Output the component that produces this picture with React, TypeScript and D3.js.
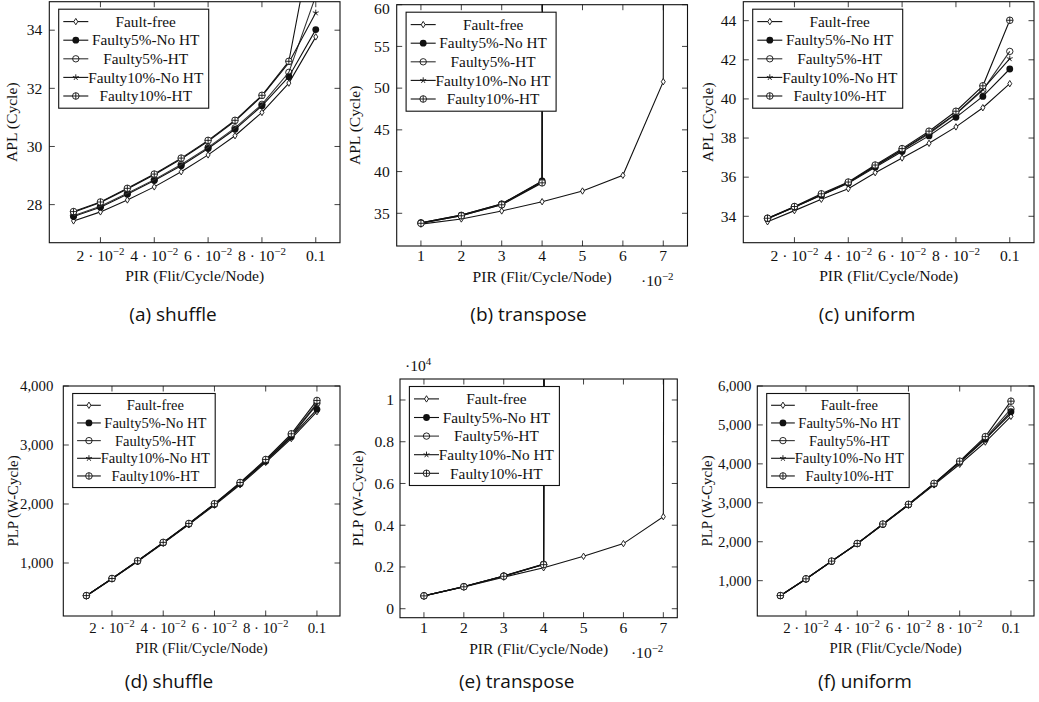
import React from 'react';
import * as d3 from 'd3';

// ---------- data ----------
const PIR = [0.01, 0.02, 0.03, 0.04, 0.05, 0.06, 0.07, 0.08, 0.09, 0.1];
// transpose: the network saturates, last value of each series lies far above the chart
const PIR_T_FF = [0.01, 0.02, 0.03, 0.04, 0.05, 0.06, 0.07, 0.08];
const PIR_T_FAULTY = [0.01, 0.02, 0.03, 0.04, 0.05];

const SERIES = ['Fault-free', 'Faulty5%-No HT', 'Faulty5%-HT', 'Faulty10%-No HT', 'Faulty10%-HT'];
const MARKS = ['diamond', 'filled', 'open', 'star', 'oplus'];

// (a) shuffle APL
const shuffleAPL_FF = [27.44, 27.75, 28.16, 28.61, 29.13, 29.71, 30.37, 31.17, 32.18, 33.77];
const shuffleAPL_5No = [27.59, 27.91, 28.36, 28.83, 29.34, 29.93, 30.59, 31.4, 32.4, 34.02];
const shuffleAPL_5HT = [27.62, 27.94, 28.39, 28.86, 29.38, 29.97, 30.64, 31.45, 32.55, 35.18];
const shuffleAPL_10No = [27.74, 28.07, 28.54, 29.03, 29.57, 30.18, 30.87, 31.73, 32.88, 34.6];
const shuffleAPL_10HT = [27.76, 28.09, 28.56, 29.05, 29.6, 30.21, 30.9, 31.76, 32.93, 37.8];

// (b) transpose APL
const transposeAPL_FF = [33.7, 34.32, 35.28, 36.39, 37.67, 39.55, 50.77, 3000];
const transposeAPL_5No = [33.87, 34.78, 36.12, 38.88, 3000];
const transposeAPL_5HT = [33.82, 34.72, 36.06, 38.72, 3000];
const transposeAPL_10No = [33.85, 34.8, 36.15, 38.8, 3000];
const transposeAPL_10HT = [33.8, 34.7, 36.02, 38.65, 3000];

// (c) uniform APL
const uniformAPL_FF = [33.72, 34.29, 34.87, 35.41, 36.23, 36.98, 37.73, 38.57, 39.55, 40.78];
const uniformAPL_5No = [33.88, 34.46, 35.07, 35.69, 36.51, 37.31, 38.11, 39.06, 40.13, 41.53];
const uniformAPL_5HT = [33.9, 34.48, 35.1, 35.72, 36.56, 37.38, 38.22, 39.22, 40.45, 42.43];
const uniformAPL_10No = [33.87, 34.47, 35.09, 35.71, 36.57, 37.4, 38.27, 39.25, 40.5, 42.06];
const uniformAPL_10HT = [33.9, 34.5, 35.15, 35.75, 36.62, 37.46, 38.35, 39.37, 40.67, 44.02];

// (d) shuffle PLP
const shufflePLP_FF = [440, 730, 1025, 1335, 1650, 1980, 2325, 2705, 3110, 3565];
const shufflePLP_5No = [446, 734, 1032, 1342, 1660, 1993, 2345, 2725, 3140, 3605];
const shufflePLP_5HT = [446, 736, 1035, 1346, 1665, 2000, 2355, 2740, 3170, 3710];
const shufflePLP_10No = [445, 735, 1034, 1344, 1662, 1996, 2348, 2730, 3150, 3690];
const shufflePLP_10HT = [448, 738, 1038, 1350, 1670, 2005, 2365, 2755, 3190, 3755];

// (e) transpose PLP
const transposePLP_FF = [610, 1040, 1510, 1960, 2510, 3120, 4410, 1000000];
const transposePLP_5No = [620, 1060, 1570, 2140, 1000000];
const transposePLP_5HT = [615, 1055, 1560, 2120, 1000000];
const transposePLP_10No = [620, 1058, 1565, 2130, 1000000];
const transposePLP_10HT = [615, 1050, 1555, 2110, 1000000];

// (f) uniform PLP
const uniformPLP_FF = [612, 1040, 1495, 1945, 2440, 2940, 3460, 3990, 4560, 5220];
const uniformPLP_5No = [615, 1044, 1498, 1950, 2447, 2950, 3480, 4040, 4630, 5340];
const uniformPLP_5HT = [616, 1045, 1500, 1952, 2450, 2955, 3490, 4055, 4660, 5410];
const uniformPLP_10No = [615, 1044, 1499, 1951, 2448, 2952, 3485, 4045, 4640, 5290];
const uniformPLP_10HT = [618, 1048, 1503, 1956, 2455, 2962, 3500, 4070, 4700, 5610];

const TICKS_X_FULL = [0.02, 0.04, 0.06, 0.08, 0.1];
const TICKS_X_T = [0.01, 0.02, 0.03, 0.04, 0.05, 0.06, 0.07];
const TICKS_Y_A = [28, 30, 32, 34];
const TICKS_Y_B = [35, 40, 45, 50, 55, 60];
const TICKS_Y_C = [34, 36, 38, 40, 42, 44];
const TICKS_Y_D = [1000, 2000, 3000, 4000];
const TICKS_Y_E = [0, 2000, 4000, 6000, 8000, 10000];
const TICKS_Y_F = [1000, 2000, 3000, 4000, 5000, 6000];

// ---------- layout ----------
type Panel = {
  id: string;
  caption: string;
  ylabel: string;
  frame: { l: number; r: number; t: number; b: number };
  xDomain: [number, number];
  yDomain: [number, number];
  xTicks: number[];
  yTicks: number[];
  xs: number[][];
  ys: number[][];
  kind: 'full' | 'transpose';
  yFmt: (v: number) => string;
  yLabelX: number;
  yTickGap: number;
  captionX: number;
  captionY: number;
  scale: number;
  yExp?: boolean;
};

const fmtComma = d3.format(',');
const fmtPlain = (v: number) => String(v);

const panels: Panel[] = [
  {
    id: 'a', caption: '(a) shuffle', ylabel: 'APL (Cycle)',
    frame: { l: 49.3, r: 340, t: 1.7, b: 242.7 },
    xDomain: [0.001, 0.109], yDomain: [26.69, 34.98],
    xTicks: TICKS_X_FULL, yTicks: TICKS_Y_A,
    xs: [PIR, PIR, PIR, PIR, PIR],
    ys: [shuffleAPL_FF, shuffleAPL_5No, shuffleAPL_5HT, shuffleAPL_10No, shuffleAPL_10HT],
    kind: 'full', yFmt: fmtPlain, yLabelX: 12, yTickGap: 7, captionX: 173, captionY: 321, scale: 1,
  },
  {
    id: 'b', caption: '(b) transpose', ylabel: 'APL (Cycle)',
    frame: { l: 396.7, r: 687.5, t: 4.7, b: 246 },
    xDomain: [0.004, 0.076], yDomain: [31.08, 60],
    xTicks: TICKS_X_T, yTicks: TICKS_Y_B,
    xs: [PIR_T_FF, PIR_T_FAULTY, PIR_T_FAULTY, PIR_T_FAULTY, PIR_T_FAULTY],
    ys: [transposeAPL_FF, transposeAPL_5No, transposeAPL_5HT, transposeAPL_10No, transposeAPL_10HT],
    kind: 'transpose', yFmt: fmtPlain, yLabelX: 355, yTickGap: 7, captionX: 528.5, captionY: 321, scale: 1,
  },
  {
    id: 'c', caption: '(c) uniform', ylabel: 'APL (Cycle)',
    frame: { l: 743.3, r: 1034, t: 1.7, b: 242.7 },
    xDomain: [0.001, 0.109], yDomain: [32.65, 44.97],
    xTicks: TICKS_X_FULL, yTicks: TICKS_Y_C,
    xs: [PIR, PIR, PIR, PIR, PIR],
    ys: [uniformAPL_FF, uniformAPL_5No, uniformAPL_5HT, uniformAPL_10No, uniformAPL_10HT],
    kind: 'full', yFmt: fmtPlain, yLabelX: 708, yTickGap: 7, captionX: 867, captionY: 321, scale: 1,
  },
  {
    id: 'd', caption: '(d) shuffle', ylabel: 'PLP (W-Cycle)',
    frame: { l: 63.3, r: 340, t: 386, b: 616 },
    xDomain: [0.001, 0.109], yDomain: [102, 4000],
    xTicks: TICKS_X_FULL, yTicks: TICKS_Y_D,
    xs: [PIR, PIR, PIR, PIR, PIR],
    ys: [shufflePLP_FF, shufflePLP_5No, shufflePLP_5HT, shufflePLP_10No, shufflePLP_10HT],
    kind: 'full', yFmt: fmtComma, yLabelX: 12.5, yTickGap: 10, captionX: 169, captionY: 688, scale: 0.95,
  },
  {
    id: 'e', caption: '(e) transpose', ylabel: 'PLP (W-Cycle)',
    frame: { l: 400, r: 677.3, t: 379, b: 617.7 },
    xDomain: [0.004, 0.0735], yDomain: [-431, 11006],
    xTicks: TICKS_X_T, yTicks: TICKS_Y_E,
    xs: [PIR_T_FF, PIR_T_FAULTY, PIR_T_FAULTY, PIR_T_FAULTY, PIR_T_FAULTY],
    ys: [transposePLP_FF, transposePLP_5No, transposePLP_5HT, transposePLP_10No, transposePLP_10HT],
    kind: 'transpose', yFmt: (v) => String(+(v / 1e4).toFixed(1)), yLabelX: 358, yTickGap: 6,
    captionX: 516.7, captionY: 688, scale: 1, yExp: true,
  },
  {
    id: 'f', caption: '(f) uniform', ylabel: 'PLP (W-Cycle)',
    frame: { l: 757.3, r: 1034, t: 386, b: 616 },
    xDomain: [0.001, 0.109], yDomain: [93, 6000],
    xTicks: TICKS_X_FULL, yTicks: TICKS_Y_F,
    xs: [PIR, PIR, PIR, PIR, PIR],
    ys: [uniformPLP_FF, uniformPLP_5No, uniformPLP_5HT, uniformPLP_10No, uniformPLP_10HT],
    kind: 'full', yFmt: fmtComma, yLabelX: 706.7, yTickGap: 6, captionX: 865, captionY: 688, scale: 0.95,
  },
];

const SERIF = "'Liberation Serif', 'Times New Roman', serif";
const SANS = "'Open Sans', 'Noto Sans', sans-serif";
const INK = '#111';

function Marker({ type, x, y }: { type: string; x: number; y: number }) {
  const sw = 0.9;
  if (type === 'diamond') {
    const w = 2.0, h = 3.2;
    return <path d={`M${x},${y - h}L${x + w},${y}L${x},${y + h}L${x - w},${y}Z`} fill="white" stroke={INK} strokeWidth={sw} />;
  }
  if (type === 'filled') return <circle cx={x} cy={y} r={3.4} fill={INK} />;
  if (type === 'open') return <circle cx={x} cy={y} r={3.2} fill="none" stroke={INK} strokeWidth={sw} />;
  if (type === 'star') {
    const r = 3.1;
    const d = d3.range(5).map((i) => {
      const a = -Math.PI / 2 + (i * 2 * Math.PI) / 5;
      return `M${x},${y}L${x + r * Math.cos(a)},${y + r * Math.sin(a)}`;
    }).join('');
    return <path d={d} stroke={INK} strokeWidth={sw} fill="none" />;
  }
  // oplus
  const r = 3.3;
  return (
    <g stroke={INK} strokeWidth={sw} fill="white">
      <circle cx={x} cy={y} r={r} />
      <path d={`M${x - r},${y}L${x + r},${y}M${x},${y - r}L${x},${y + r}`} />
    </g>
  );
}

function XTickLabel({ v, kind, fs }: { v: number; kind: string; fs: number }) {
  if (kind === 'transpose') return <tspan>{String(Math.round(v * 100))}</tspan>;
  if (Math.abs(v - 0.1) < 1e-9) return <tspan>0.1</tspan>;
  const m = Math.round(v * 100);
  return (
    <>
      <tspan>{`${m} · 10`}</tspan>
      <tspan dy={-0.38 * fs} fontSize={0.7 * fs}>−2</tspan>
    </>
  );
}

function PanelView({ p }: { p: Panel }) {
  const { l, r, t, b } = p.frame;
  const x = d3.scaleLinear().domain(p.xDomain).range([l, r]);
  const y = d3.scaleLinear().domain(p.yDomain).range([b, t]);
  const line = d3.line<[number, number]>().x((d) => x(d[0])).y((d) => y(d[1]));
  const clipId = `clip-${p.id}`;
  const tl = 5.5;
  const s = p.scale;
  const fs = 15.6 * s;
  const lgX = l + 9.4;
  const lgY = t + 7.5;
  const lgW = 150 * s;
  const lgH = 99 * s;
  const xTickBase = p.kind === 'transpose' ? b + 15 : b + 18 * s;
  const xLabelBase = p.kind === 'transpose' ? b + 36 : b + 38.5 * s;

  return (
    <g>
      <defs>
        <clipPath id={clipId}>
          <rect x={l} y={t} width={r - l} height={b - t} />
        </clipPath>
      </defs>
      {/* ticks inside on all sides */}
      <g stroke={INK} strokeWidth={0.8}>
        {p.xTicks.map((v) => (
          <g key={`xt${v}`}>
            <line x1={x(v)} x2={x(v)} y1={b} y2={b - tl} />
            <line x1={x(v)} x2={x(v)} y1={t} y2={t + tl} />
          </g>
        ))}
        {p.yTicks.map((v) => (
          <g key={`yt${v}`}>
            <line x1={l} x2={l + tl} y1={y(v)} y2={y(v)} />
            <line x1={r} x2={r - tl} y1={y(v)} y2={y(v)} />
          </g>
        ))}
      </g>
      {/* series */}
      <g clipPath={`url(#${clipId})`}>
        {p.ys.map((ys, si) => {
          const pts: [number, number][] = ys.map((v, i) => [p.xs[si][i], v]);
          return (
            <g key={si}>
              <path d={line(pts) || ''} fill="none" stroke={si === 2 ? '#333' : INK} strokeWidth={1.1} />
              {pts.map((d, i) => (
                <Marker key={i} type={MARKS[si]} x={x(d[0])} y={y(d[1])} />
              ))}
            </g>
          );
        })}
      </g>
      <rect x={l} y={t} width={r - l} height={b - t} fill="none" stroke={INK} strokeWidth={1.1} />
      {/* tick labels */}
      <g fontFamily={SERIF} fontSize={fs} fill={INK}>
        {p.xTicks.map((v) => (
          <text key={`xl${v}`} x={x(v)} y={xTickBase} textAnchor="middle">
            <XTickLabel v={v} kind={p.kind} fs={fs} />
          </text>
        ))}
        {p.yTicks.map((v) => (
          <text key={`yl${v}`} x={l - p.yTickGap} y={Math.max(y(v), 8.8)} dy="0.34em" textAnchor="end">
            {p.yFmt(v)}
          </text>
        ))}
        <text x={(l + r) / 2} y={xLabelBase} textAnchor="middle">PIR (Flit/Cycle/Node)</text>
        <text transform={`translate(${p.yLabelX},${(t + b) / 2}) rotate(-90)`} dy="0.34em" textAnchor="middle">
          {p.ylabel}
        </text>
        {p.kind === 'transpose' && (
          <text x={r - 14} y={b + 40} textAnchor="end">
            <tspan>·10</tspan>
            <tspan dy={-0.38 * fs} fontSize={0.7 * fs}>−2</tspan>
          </text>
        )}
        {p.yExp && (
          <text x={l + 5} y={t - 8} textAnchor="start">
            <tspan>·10</tspan>
            <tspan dy={-0.38 * fs} fontSize={0.7 * fs}>4</tspan>
          </text>
        )}
      </g>
      {/* legend */}
      <g>
        <rect x={lgX} y={lgY} width={lgW} height={lgH} fill="white" stroke={INK} strokeWidth={1.1} />
        {SERIES.map((name, i) => {
          const ry = lgY + (12.4 + i * 18.6) * s;
          return (
            <g key={name}>
              <line x1={lgX + 4.6 * s} x2={lgX + 29.6 * s} y1={ry} y2={ry} stroke={i === 2 ? '#333' : INK} strokeWidth={1.1} />
              <Marker type={MARKS[i]} x={lgX + 17.1 * s} y={ry} />
              <text x={lgX + 87 * s} y={ry} dy="0.34em" textAnchor="middle" fontFamily={SERIF} fontSize={15.3 * s} fill={INK}>
                {name}
              </text>
            </g>
          );
        })}
      </g>
      <text x={p.captionX} y={p.captionY} textAnchor="middle" fontFamily={SANS} fontSize={19} fill={INK}>
        {p.caption}
      </text>
    </g>
  );
}

export default function App() {
  return (
    <svg width={1039} height={702} style={{ position: 'absolute', left: 0, top: 0, background: 'white' }}>
      <rect width={1039} height={702} fill="white" />
      {panels.map((p) => (
        <PanelView key={p.id} p={p} />
      ))}
    </svg>
  );
}
